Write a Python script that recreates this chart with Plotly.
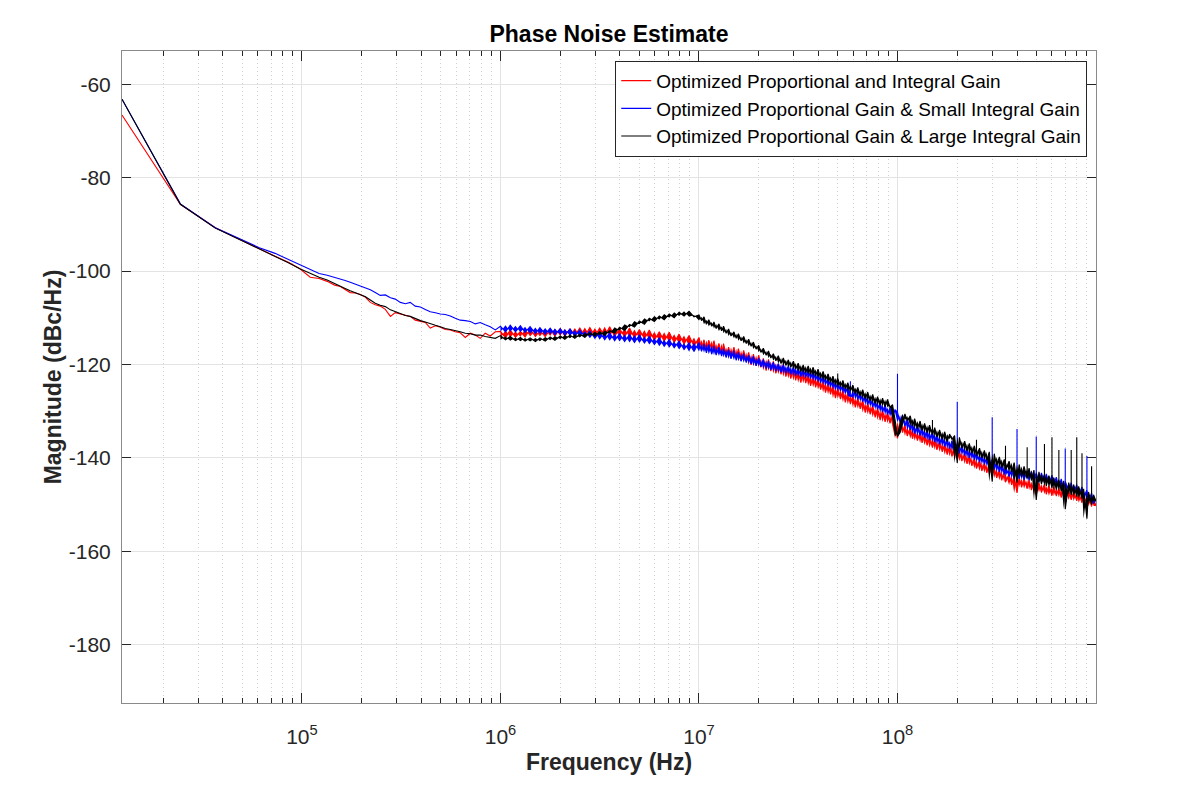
import math
import plotly.graph_objects as go

# ---------------- data ----------------
SERIES_NAMES = [
    "Optimized Proportional and Integral Gain",
    "Optimized Proportional Gain & Small Integral Gain",
    "Optimized Proportional Gain & Large Integral Gain",
]
SERIES_COLORS = ["#ff0000", "#0000ff", "#000000"]

# offset frequency in MHz
FREQ_MHZ = [
    0.0124, 0.0244, 0.0366, 0.0488, 0.0610, 0.0732, 0.0854, 0.0976, 0.110, 0.122, 0.134, 0.146,
    0.156, 0.165, 0.175, 0.186, 0.197, 0.209, 0.221, 0.234, 0.248, 0.263, 0.279, 0.295,
    0.313, 0.332, 0.351, 0.372, 0.395, 0.418, 0.443, 0.470, 0.498, 0.527, 0.559, 0.592,
    0.627, 0.665, 0.705, 0.747, 0.791, 0.838, 0.888, 0.942,
    1.00, 1.06, 1.12, 1.19, 1.26, 1.33, 1.41, 1.50, 1.58, 1.68, 1.78, 1.88, 2.00, 2.11,
    2.24, 2.37, 2.51, 2.66, 2.82, 2.99, 3.16, 3.35, 3.55, 3.76, 3.98, 4.22, 4.47, 4.73,
    5.01, 5.31, 5.62, 5.96, 6.31, 6.68, 7.08, 7.50, 7.94, 8.41, 8.91, 9.44,
    10.0, 10.3, 10.6, 10.9, 11.2, 11.6, 11.9, 12.2, 12.6, 13.0,
    13.3, 13.7, 14.1, 14.5, 15.0, 15.4, 15.8, 16.3, 16.8, 17.3,
    17.8, 18.3, 18.8, 19.4, 20.0, 20.5, 21.1, 21.8, 22.4, 23.0,
    23.7, 24.4, 25.1, 25.9, 26.6, 27.4, 28.2, 29.0, 29.9, 30.7,
    31.6, 32.6, 33.5, 34.5, 35.5, 36.5, 37.6, 38.7, 39.8, 41.0,
    42.2, 43.4, 44.7, 46.0, 47.3, 48.7, 50.0, 51.6, 53.1, 54.6,
    56.2, 57.9, 59.6, 61.3, 63.1, 64.9, 66.8, 68.8, 70.8, 72.9,
    75.0, 77.2, 79.4, 81.8, 84.1, 86.6, 89.1, 91.7, 94.4, 97.2,
    100, 103, 106, 109, 112, 116, 119, 122, 126, 130,
    133, 137, 141, 145, 150, 154, 158, 163, 168, 173,
    178, 183, 188, 194, 200, 205, 211, 218, 224, 230,
    237, 244, 250, 259, 266, 274, 282, 290, 300, 307,
    316, 326, 335, 345, 350, 365, 376, 387, 400, 410,
    422, 434, 450, 460, 473, 487, 500, 516, 531, 550,
    562, 579, 600, 613, 631, 650, 668, 688, 700, 729,
    750, 772, 800, 818, 850, 866, 900, 917, 950, 972,
    1000,
]

RED_DBC = [
    -66.6, -85.7, -90.7, -93.3, -95.3, -96.8, -98.1, -99.5, -101.3, -101.6, -102.2, -103.0,
    -103.3, -103.9, -104.6, -104.7, -105.0, -105.6, -106.7, -107.2, -107.5, -108.2, -109.7, -108.9,
    -109.2, -109.5, -109.7, -110.5, -110.8, -111.0, -112.2, -111.7, -112.0, -112.5, -112.6, -113.0,
    -113.2, -114.2, -113.3, -113.7, -114.4, -113.3, -113.9, -113.0,
    -112.9, -114.3, -112.6, -114.2, -112.9, -114.1, -112.4, -114.0, -112.7, -114.0, -112.5, -113.9, -112.3, -113.9,
    -112.4, -113.8, -112.2, -113.9, -112.1, -113.9, -112.2, -113.9, -111.9, -114.0, -112.3, -114.1, -112.2, -114.3,
    -112.5, -114.5, -112.6, -114.8, -113.0, -115.0, -113.1, -115.3, -113.5, -115.6, -113.8, -116.1,
    -114.2, -116.6, -114.7, -117.1, -114.8, -116.9, -114.9, -117.4, -115.5, -117.9,
    -115.5, -118.1, -116.3, -118.6, -116.3, -118.7, -116.6, -119.2, -117.0, -119.3,
    -117.4, -120.1, -117.8, -120.3, -118.0, -120.6, -118.7, -121.3, -118.9, -121.4,
    -119.3, -121.9, -119.8, -122.1, -119.9, -122.6, -120.6, -123.0, -120.8, -123.4,
    -121.3, -123.9, -121.6, -124.0, -122.0, -124.6, -122.4, -124.9, -122.9, -125.4,
    -123.4, -126.0, -123.9, -126.4, -124.3, -127.2, -124.9, -127.4, -125.4, -128.1,
    -125.9, -128.5, -126.5, -129.2, -127.1, -129.5, -127.6, -130.3, -128.2, -130.7,
    -128.7, -131.3, -129.3, -131.9, -129.7, -132.3, -130.2, -132.6, -130.8, -133.2,
    -135.8, -132.2, -134.6, -132.9, -135.3, -133.4, -135.9, -134.0, -136.3, -134.4,
    -136.8, -134.9, -137.3, -135.4, -137.8, -135.8, -138.3, -136.3, -138.7, -136.9,
    -139.3, -137.3, -139.7, -137.8, -140.3, -138.4, -140.7, -138.9, -141.3, -139.3,
    -141.7, -140.0, -142.3, -140.4, -142.8, -141.0, -143.2, -141.4, -143.8, -142.0,
    -144.3, -142.4, -144.8, -142.9, -145.2, -143.4, -145.8, -143.8, -147.5, -144.1,
    -146.3, -144.4, -146.6, -144.7, -146.9, -145.0, -147.9, -145.3, -147.4, -145.6,
    -147.8, -145.9, -148.1, -146.1, -148.2, -146.4, -148.5, -146.6, -148.7, -146.9,
    -149.0, -147.1, -149.2, -147.4, -149.6, -147.8, -150.0, -148.2, -150.4, -148.6,
    -150.3,
]

BLUE_DBC = [
    -63.2, -85.6, -90.7, -93.2, -95.0, -96.2, -97.5, -98.7, -99.8, -100.5, -100.9, -101.3,
    -101.7, -102.0, -102.4, -102.8, -103.2, -103.5, -104.0, -104.6, -105.2, -105.1, -105.7, -106.0,
    -106.7, -107.0, -106.7, -107.5, -107.7, -108.2, -108.7, -108.9, -109.2, -109.3, -109.6, -110.1,
    -110.5, -110.6, -110.8, -111.3, -111.0, -111.5, -111.9, -112.6,
    -111.8, -113.0, -111.6, -113.0, -111.7, -113.1, -111.9, -113.4, -112.1, -113.5, -112.2, -113.6, -112.3, -113.7,
    -112.4, -113.9, -112.6, -114.1, -112.8, -114.4, -113.0, -114.7, -113.2, -114.9, -113.4, -115.1, -113.6, -115.3,
    -113.7, -115.4, -114.0, -115.7, -114.3, -116.1, -114.7, -116.4, -115.0, -116.8, -115.4, -117.2,
    -115.3, -117.2, -115.6, -117.5, -115.7, -117.8, -116.0, -118.0, -116.3, -118.2,
    -116.6, -118.5, -116.8, -118.8, -117.0, -119.1, -117.4, -119.3, -117.7, -119.6,
    -118.0, -119.9, -118.2, -120.3, -118.6, -120.5, -118.9, -120.9, -119.2, -121.2,
    -119.5, -121.4, -119.8, -121.7, -120.0, -121.9, -120.2, -122.1, -120.4, -122.4,
    -120.7, -122.6, -120.9, -122.8, -121.1, -123.0, -121.4, -123.4, -121.8, -123.9,
    -122.3, -124.3, -122.8, -124.8, -123.2, -125.3, -123.7, -125.7, -124.2, -126.2,
    -124.6, -126.7, -127.0, -125.4, -127.5, -126.0, -128.0, -126.5, -128.6, -127.0,
    -129.1, -127.6, -129.6, -128.1, -130.2, -128.6, -130.7, -129.2, -131.2, -129.7,
    -130.2, -132.4, -130.8, -133.2, -131.6, -134.0, -132.5, -134.8, -133.0, -135.2,
    -133.5, -135.7, -133.9, -136.2, -134.4, -136.6, -134.9, -137.1, -135.3, -137.6,
    -135.8, -138.0, -136.3, -138.5, -136.8, -139.0, -137.2, -139.5, -137.7, -140.0,
    -138.2, -140.4, -138.7, -140.9, -139.2, -141.4, -139.7, -141.9, -140.2, -142.5,
    -140.7, -143.0, -141.2, -143.5, -141.7, -144.0, -142.3, -144.4, -142.5, -144.5,
    -142.6, -144.7, -142.8, -144.8, -142.9, -145.0, -143.1, -145.2, -143.2, -145.3,
    -143.4, -145.5, -143.7, -145.9, -144.1, -146.3, -144.5, -146.7, -145.0, -147.1,
    -145.3, -147.5, -145.7, -147.9, -146.2, -148.5, -146.8, -149.2, -147.5, -149.8,
    -148.8,
]

BLACK_DBC = [
    -63.2, -85.7, -90.8, -93.3, -95.3, -96.8, -98.2, -99.5, -100.5, -101.3, -101.9, -102.7,
    -103.2, -103.7, -104.2, -104.6, -105.0, -105.5, -106.2, -106.9, -107.3, -107.6, -108.3, -108.7,
    -109.0, -109.5, -109.7, -110.2, -110.6, -110.9, -111.3, -111.6, -111.9, -112.3, -112.5, -112.7,
    -113.0, -113.3, -113.4, -113.7, -113.7, -114.0, -114.2, -114.4,
    -113.8, -114.7, -114.0, -114.9, -114.2, -115.0, -114.3, -115.1, -114.3, -115.0, -114.1, -114.8, -113.9, -114.6,
    -113.7, -114.4, -113.5, -114.2, -113.2, -113.9, -113.0, -113.8, -112.7, -113.3, -112.0, -112.7, -111.4, -112.0,
    -110.7, -111.4, -110.1, -110.8, -109.6, -110.4, -109.2, -110.0, -108.8, -109.6, -108.6, -109.8,
    -109.4, -110.6, -109.8, -111.4, -110.4, -111.8, -110.9, -112.3, -111.3, -112.8,
    -111.8, -113.3, -112.4, -113.9, -113.0, -114.4, -113.4, -114.9, -114.0, -115.5,
    -114.6, -116.1, -115.2, -116.7, -115.9, -117.4, -116.5, -118.0, -117.1, -118.6,
    -117.7, -119.2, -118.1, -119.8, -118.6, -120.2, -119.0, -120.6, -119.3, -121.0,
    -119.7, -121.5, -120.1, -121.8, -120.3, -122.1, -120.6, -122.4, -121.0, -122.9,
    -121.5, -123.3, -122.0, -123.8, -122.5, -124.3, -122.9, -124.8, -123.4, -125.2,
    -123.9, -125.7, -124.4, -126.2, -124.9, -126.8, -125.4, -127.3, -125.9, -127.8,
    -126.4, -128.3, -126.9, -128.7, -127.2, -129.0, -127.5, -129.2, -128.6, -131.8,
    -135.4, -134.6, -132.2, -130.6, -132.0, -131.0, -133.2, -131.6, -133.7, -132.1,
    -134.1, -132.6, -134.6, -133.0, -135.0, -133.5, -135.5, -134.0, -136.0, -134.4,
    -136.5, -134.9, -136.0, -135.2, -141.1, -135.6, -137.9, -136.4, -138.5, -136.9,
    -139.0, -137.4, -139.5, -137.9, -140.0, -138.4, -140.5, -138.7, -145.1, -139.1,
    -141.6, -139.8, -142.1, -140.3, -142.6, -140.7, -143.0, -141.0, -145.3, -141.4,
    -144.0, -141.8, -144.4, -142.2, -144.8, -142.6, -149.0, -143.0, -145.6, -143.4,
    -146.0, -143.8, -146.4, -144.2, -146.8, -144.6, -147.1, -144.9, -151.0, -145.3,
    -147.9, -145.7, -148.3, -146.1, -148.7, -146.6, -153.0, -147.3, -150.0, -147.9,
    -149.3,
]

# narrow upward spurs (MHz, dBc/Hz)
RED_SPUR_MHZ, RED_SPUR_DBC = [], []
BLUE_SPUR_MHZ = [57.9, 100, 200, 300, 400, 500, 700, 900]
BLUE_SPUR_DBC = [-123.6, -122.0, -128.0, -131.3, -133.8, -135.4, -138.0, -139.6]
BLACK_SPUR_MHZ = [50.0, 150, 250, 350, 450, 550, 600, 650, 750, 800, 850, 950]
BLACK_SPUR_DBC = [-121.9, -131.9, -136.1, -137.4, -137.7, -137.0, -135.6, -138.3, -138.3, -135.6, -139.0, -141.8]

X_TICK_VALUES_HZ = [1e5, 1e6, 1e7, 1e8]
X_TICK_LABELS = ["10<sup>5</sup>", "10<sup>6</sup>", "10<sup>7</sup>", "10<sup>8</sup>"]
Y_TICK_VALUES = [-180, -160, -140, -120, -100, -80, -60]
Y_TICK_LABELS = ["-180", "-160", "-140", "-120", "-100", "-80", "-60"]
Y_RANGE = [-192.48, -52.87]
NOISE_START_MHZ = 1.0   # above this the estimate is a dense noisy band

# ---------------- figure ----------------
freq_hz = [f * 1e6 for f in FREQ_MHZ]

fig = go.Figure()
series = [
    (SERIES_NAMES[0], SERIES_COLORS[0], RED_DBC, RED_SPUR_MHZ, RED_SPUR_DBC),
    (SERIES_NAMES[1], SERIES_COLORS[1], BLUE_DBC, BLUE_SPUR_MHZ, BLUE_SPUR_DBC),
    (SERIES_NAMES[2], SERIES_COLORS[2], BLACK_DBC, BLACK_SPUR_MHZ, BLACK_SPUR_DBC),
]
for name, col, ys, spur_f, spur_y in series:
    # dense-noise band: fill between the sample path and the same path
    # shifted by one sample (covers each min..max excursion of the noise)
    idx = [i for i, f in enumerate(FREQ_MHZ) if f >= NOISE_START_MHZ]
    bx = [freq_hz[i] for i in idx]
    by = [ys[i] for i in idx]
    px = bx + bx[-2::-1]
    py = by + [by[i + 1] for i in range(len(by) - 2, -1, -1)]
    fig.add_trace(go.Scatter(x=px, y=py, mode="lines", fill="toself", fillcolor=col,
                             line=dict(width=0, color=col), showlegend=False,
                             hoverinfo="skip"))
    # the trace itself, with spurs inserted at their bins
    spurs = dict(zip(spur_f, spur_y))
    lx, ly = [], []
    for f, fh, y in zip(FREQ_MHZ, freq_hz, ys):
        lx.append(fh)
        ly.append(y)
        if f in spurs:
            lx += [fh, fh]
            ly += [spurs[f], y]
    fig.add_trace(go.Scatter(x=lx, y=ly, mode="lines", name=name,
                             line=dict(color=col, width=1.1), hoverinfo="skip"))

FONT = "Arial, 'Liberation Sans', Helvetica, sans-serif"
AX_COL = "#262626"

minor_vals = [m * 10 ** e for e in range(4, 10) for m in range(2, 10)]

fig.update_layout(
    width=1196, height=806,
    margin=dict(l=122, r=100, t=51, b=103, autoexpand=False),
    paper_bgcolor="white", plot_bgcolor="white",
    font=dict(family=FONT, color=AX_COL),
    title=dict(text="<b>Phase Noise Estimate</b>", x=0.5, xref="paper", xanchor="center",
               y=1 - 33.5 / 806, yref="container", yanchor="middle",
               font=dict(size=23, color="black", family=FONT)),
    showlegend=True,
    legend=dict(x=0.991, xanchor="right", y=0.985, yanchor="top",
                bgcolor="white", bordercolor=AX_COL, borderwidth=1,
                font=dict(size=19, color="black", family=FONT), tracegroupgap=0),
)

fig.update_xaxes(
    type="log",
    range=[math.log10(min(freq_hz)), math.log10(max(freq_hz))],
    tickmode="array", tickvals=X_TICK_VALUES_HZ, ticktext=X_TICK_LABELS,
    ticks="inside", ticklen=10, tickwidth=1, tickcolor=AX_COL,
    tickfont=dict(size=21, color=AX_COL), ticklabelstandoff=15,
    showline=True, linecolor="#8a8a8a", linewidth=1, mirror="allticks",
    showgrid=True, gridcolor="#e3e3e3", gridwidth=1, zeroline=False,
    minor=dict(tickmode="array", tickvals=minor_vals, ticks="inside", ticklen=5,
               tickcolor=AX_COL, showgrid=True, gridcolor="#cfcfcf", griddash="1px,3px"),
    title=dict(text="<b>Frequency (Hz)</b>", font=dict(size=23, color=AX_COL), standoff=6),
)

fig.update_yaxes(
    range=Y_RANGE, tickmode="array", tickvals=Y_TICK_VALUES, ticktext=Y_TICK_LABELS,
    ticks="inside", ticklen=9, tickwidth=1, tickcolor=AX_COL,
    tickfont=dict(size=21, color=AX_COL), ticklabelstandoff=6,
    showline=True, linecolor="#8a8a8a", linewidth=1, mirror="allticks",
    showgrid=True, gridcolor="#e3e3e3", gridwidth=1, zeroline=False,
    title=dict(text="<b>Magnitude (dBc/Hz)</b>", font=dict(size=23, color=AX_COL), standoff=0),
)

fig.write_html("out.html", config={"displayModeBar": False})
